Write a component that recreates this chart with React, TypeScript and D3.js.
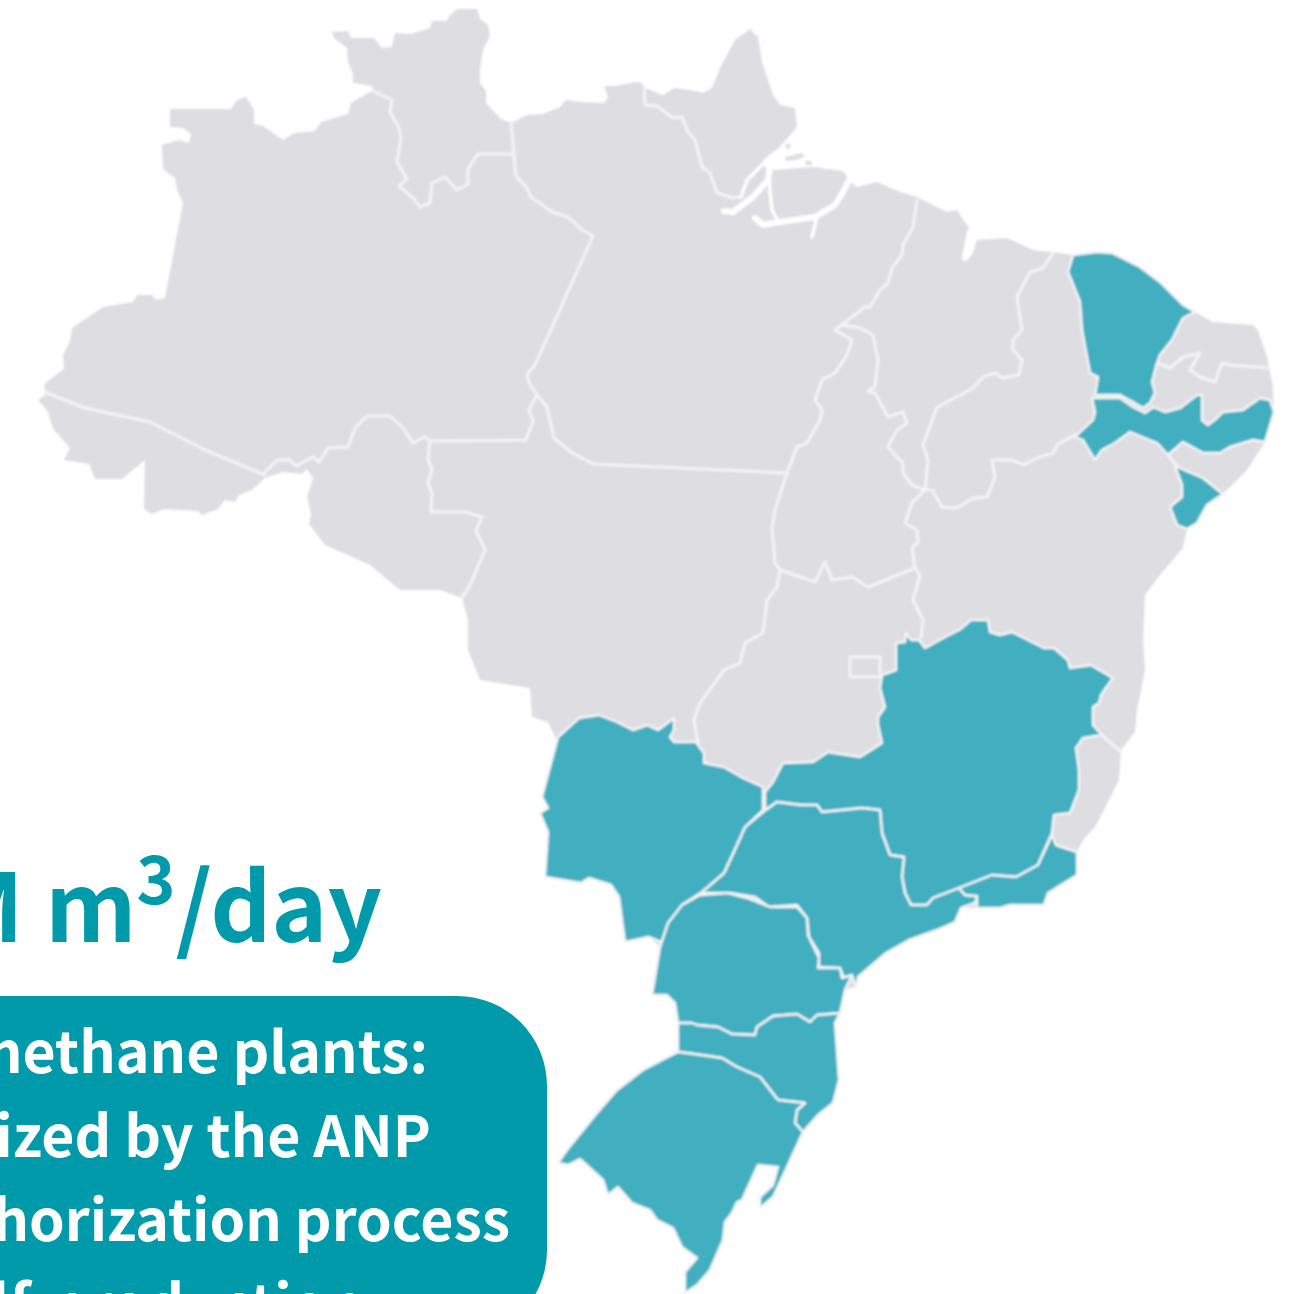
import * as d3 from "d3";

type Pt = [number, number];

// map geometry, in map units
const LAND: Pt[] = [
  [457,9],[477,9],[480,19],[488,25],[490,36],[483,50],[480,69],[480,83],[486,91],[486,103],[501,119],[511,123],
  [527,115],[543,114],[560,107],[566,100],[581,102],[604,103],[608,97],[604,86],[615,86],[630,83],[640,82],
  [645,88],[663,95],[675,88],[690,90],[703,93],[712,88],[720,68],[735,40],[750,29],[758,37],[762,62],[773,95],[780,105],[795,108],[797,127],
  [780,147],[763,160],[766,170],[773,170],[813,167],[843,171],[853,184],
  [857,187],[877,182],[900,192],[917,197],[947,212],[957,210],[970,230],[962,255],[966,261],[972,255],[977,240],
  [1007,238],[1033,250],[1053,252],[1073,255],[1097,252],[1112,253],[1140,267],[1160,282],[1183,305],[1195,312],
  [1213,322],[1253,325],[1258,330],[1267,357],[1273,387],[1274,412],[1265,442],[1247,470],[1223,494],[1207,505],[1197,523],[1187,529],
  [1183,548],[1160,575],[1145,595],[1143,640],[1145,670],[1137,710],[1135,732],[1121,750],[1119,780],[1109,800],[1095,827],[1083,840],[1077,852],
  [1077,875],[1048,893],[1044,905],[1010,905],[1000,908],[977,908],[961,908],[955,922],[937,930],[909,940],[886,953],[858,977],[855,987],[845,990],
  [840,1017],[835,1023],[839,1080],[833,1103],[818,1115],[803,1132],[787,1167],[773,1197],[760,1208],[760,1197],[773,1185],[778,1167],[758,1165],[742,1200],[737,1202],[732,1213],[725,1222],[723,1240],[710,1270],[697,1285],[685,1293],
  [685,1272],[697,1258],[682,1247],[673,1228],[657,1220],[650,1210],[632,1203],[618,1187],[608,1195],[603,1180],[580,1159],[568,1165],[558,1163],[567,1150],[597,1113],[617,1090],[643,1070],[668,1057],[678,1052],
  [678,1023],[675,1003],[667,995],[652,995],[660,947],[649,937],[625,942],[619,897],[611,885],[589,878],[581,883],[545,877],[548,832],[540,813],[548,808],[542,797],[558,743],[554,735],[548,722],[532,717],[530,688],
  [480,680],[468,650],[468,620],[462,598],[440,590],[400,590],[370,565],[325,545],[309,524],[311,514],[307,497],[313,478],[307,469],[302,474],[283,472],[265,478],
  [252,490],[239,495],[235,502],[225,500],[218,509],[202,515],[198,511],[164,509],[152,514],[144,509],[145,460],[122,479],[95,479],[89,464],[64,460],[70,448],[53,429],[47,410],[38,400],[45,395],[45,383],
  [64,369],[63,355],[70,341],[72,328],[103,307],[133,302],[137,295],[152,295],[156,300],[165,298],[183,203],[177,190],[175,178],[163,169],[162,145],[179,140],[189,143],[191,134],[183,128],[170,127],[170,109],[231,109],[237,100],[246,97],[254,110],[254,124],[263,126],[283,140],[294,133],[315,131],[321,122],[348,114],[351,103],[373,90],
  [372,86],[353,83],[353,74],[348,62],[347,48],[334,38],[332,32],[348,31],[351,38],[374,38],[382,48],[392,47],[395,33],[411,34],[430,28],[432,21],[447,21],[449,16],
];

const DELTA_ISLANDS: Pt[][] = [
  [[786,144],[791,144],[789,149],[785,149]],
  [[785,157],[802,153],[805,156],[796,160],[786,161]],
  [[805,161],[811,161],[813,165],[806,165]],
];

const WIDE_RIVERS: Pt[][] = [
  [[724,211],[733,212],[753,197],[768,180],[770,167],[783,148]],
  [[755,218],[763,225],[780,222],[815,217],[835,205],[843,192],[850,178]],
  [[970,232],[965,258]],
];

const THIN_RIVERS: Pt[][] = [
  [[741,197],[747,180],[757,170],[765,162]],
  [[769,172],[770,192],[772,210],[778,221]],
  [[817,217],[812,237]],
];

const BORDERS: Pt[][] = [
  // Roraima / Amazonas
  [[373,91],[392,100],[390,112],[399,128],[401,138],[397,162],[407,179],[399,186],[413,198],[420,207],[430,203],[432,183],[445,177],[457,190],[468,184],[468,169],[478,154],[514,154]],
  // Pará west
  [[511,122],[514,155],[516,176],[527,188],[531,197],[552,212],[568,217],[581,229],[593,236],[535,365],[527,374],[529,383],[537,395]],
  [[537,395],[529,410],[533,421],[526,440],[430,441]],
  [[537,395],[547,407],[554,438],[571,452],[593,464],[787,473]],
  // Acre
  [[45,392],[85,408],[150,422],[205,450],[265,475]],
  // Rondônia
  [[263,474],[277,460],[290,460],[296,466],[313,457],[319,462],[328,448],[348,447],[355,428],[367,416],[390,416],[403,428],[413,443],[424,437],[430,441],[428,459],[432,469],[428,483],[432,493],[431,512],[466,512],[482,517],[476,531],[485,550],[470,585],[462,598]],
  // Amapá
  [[644,85],[645,105],[657,106],[673,118],[682,117],[688,132],[695,140],[702,167],[710,173],[717,193],[733,198],[741,197]],
  // Tocantins / Pará / Maranhão
  [[787,473],[797,447],[807,443],[820,420],[822,410],[815,400],[822,380],[835,373],[847,355],[852,340],[835,330],[865,307],[870,307],[880,290],[888,283],[892,268],[902,255],[903,245],[913,227],[917,200]],
  [[843,325],[860,328],[873,335],[878,360],[875,387],[868,391],[875,393],[888,417],[903,412],[907,423],[897,430],[888,447],[895,455],[903,463],[903,473],[912,485],[925,490]],
  [[787,473],[775,510],[772,527],[775,563],[780,570],[815,582],[825,562],[832,580],[852,577],[868,587],[915,568]],
  // Piauí
  [[925,490],[928,460],[923,445],[937,407],[955,398],[973,388],[983,377],[995,373],[1002,378],[1019,375],[1022,360],[1013,350],[1013,340],[1022,330],[1017,297],[1030,272],[1043,268],[1053,253]],
  [[925,490],[932,490],[942,507],[957,508],[973,498],[987,497],[995,477],[992,460],[1013,460],[1023,465],[1037,458],[1053,453],[1057,445],[1075,435]],
  [[925,490],[912,503],[905,523],[917,530],[918,542],[912,548],[915,568],[920,575],[913,600],[923,620],[921,637]],
  // Goiás / Mato Grosso
  [[780,570],[777,587],[767,600],[763,633],[745,643],[740,663],[724,670],[700,703],[694,720],[698,743]],
  // Distrito Federal
  [[850,657],[880,657],[880,677],[850,677],[850,657]],
  // Rio Grande do Norte / Paraíba
  [[1157,363],[1170,368],[1183,357],[1200,353],[1190,370],[1200,377],[1215,382],[1222,363],[1230,365],[1268,368]],
  // Alagoas / Bahia, Espírito Santo
  [[1168,455],[1177,466]],
  [[1102,735],[1121,752]],
];

const CEARA: Pt[] = [[1073,255],[1097,252],[1112,253],[1140,267],[1160,282],[1183,305],[1195,312],[1183,318],[1172,340],[1160,355],[1157,363],[1152,382],[1155,393],[1150,403],[1143,408],[1133,402],[1120,395],[1095,395],[1098,377],[1090,373],[1082,330],[1080,302],[1068,272]];
const PERNAMBUCO: Pt[] = [[1092,398],[1120,398],[1133,407],[1145,413],[1153,407],[1165,412],[1180,408],[1197,395],[1202,395],[1202,420],[1208,425],[1217,418],[1223,412],[1243,410],[1260,398],[1270,400],[1274,412],[1265,442],[1253,440],[1230,447],[1220,453],[1203,453],[1183,442],[1168,455],[1157,443],[1130,432],[1115,443],[1102,450],[1095,460],[1090,452],[1083,440],[1075,437],[1093,420],[1095,412]];
const SERGIPE: Pt[] = [[1175,466],[1203,478],[1223,494],[1207,505],[1197,523],[1187,529],[1177,525],[1170,507],[1182,497],[1182,485]];
const MINAS: Pt[] = [[971,620],[988,620],[990,632],[1000,635],[1012,632],[1044,648],[1054,648],[1068,660],[1070,668],[1091,665],[1113,678],[1101,695],[1099,703],[1093,707],[1093,725],[1102,735],[1083,738],[1076,748],[1079,770],[1079,790],[1070,813],[1054,815],[1052,833],[1038,865],[1016,877],[992,875],[959,888],[933,898],[927,905],[911,905],[905,893],[902,877],[904,857],[890,855],[882,833],[880,810],[862,808],[822,812],[817,805],[801,805],[777,802],[765,810],[765,792],[773,782],[783,763],[813,762],[828,752],[860,757],[882,743],[878,725],[878,717],[885,707],[880,688],[882,675],[896,670],[896,643],[905,642],[906,633],[911,640],[919,640],[925,648],[945,637],[959,630]];
const SAO_PAULO: Pt[] = [[777,802],[801,805],[817,805],[822,812],[862,808],[880,810],[882,833],[890,855],[904,857],[902,877],[905,893],[911,905],[927,905],[933,898],[959,888],[965,895],[977,896],[975,903],[961,908],[955,922],[937,930],[909,940],[886,953],[858,977],[856,988],[852,975],[844,978],[840,968],[819,967],[819,953],[809,937],[807,918],[797,905],[769,907],[755,897],[730,893],[700,893],[724,873],[736,847],[745,827],[763,812]];
const RIO: Pt[] = [[1052,835],[1038,865],[1016,877],[992,875],[959,888],[965,895],[977,896],[977,908],[1000,908],[1010,905],[1044,905],[1048,893],[1077,875],[1077,852],[1056,845]];
const MATO_GROSSO_SUL: Pt[] = [[558,737],[579,718],[599,715],[617,722],[633,730],[647,725],[658,730],[674,718],[674,730],[670,737],[674,742],[696,742],[704,753],[704,763],[724,767],[743,778],[763,787],[763,810],[745,827],[736,847],[724,873],[702,892],[682,905],[670,923],[664,943],[649,937],[625,942],[619,897],[611,885],[589,878],[581,883],[545,877],[548,832],[540,813],[548,808],[542,797]];
const PARANA: Pt[] = [[660,947],[668,923],[682,905],[700,895],[728,893],[747,898],[770,907],[797,907],[807,918],[808,935],[819,958],[818,968],[840,968],[842,978],[852,975],[845,990],[840,1013],[817,1015],[810,1022],[797,1014],[773,1016],[757,1027],[755,1035],[732,1034],[718,1027],[697,1025],[692,1023],[678,1023],[675,1003],[667,995],[652,995]];
const SANTA_CATARINA: Pt[] = [[678,1023],[692,1023],[697,1025],[718,1027],[732,1034],[755,1035],[757,1027],[773,1016],[797,1014],[810,1022],[817,1015],[840,1013],[835,1023],[839,1080],[833,1103],[818,1115],[803,1132],[795,1123],[797,1110],[805,1103],[778,1100],[760,1077],[737,1067],[722,1058],[687,1053],[678,1052]];
const RIO_GRANDE_SUL: Pt[] = [[678,1052],[687,1053],[722,1058],[737,1067],[760,1077],[778,1100],[805,1103],[797,1110],[795,1123],[803,1132],[787,1167],[773,1197],[760,1208],[760,1197],[773,1185],[778,1167],[758,1165],[742,1200],[737,1202],[732,1213],[725,1222],[723,1240],[710,1270],[697,1285],[685,1293],[685,1272],[697,1258],[682,1247],[673,1228],[657,1220],[650,1210],[632,1203],[618,1187],[608,1195],[603,1180],[580,1159],[568,1165],[558,1163],[567,1150],[597,1113],[617,1090],[643,1070],[668,1057]];

const HIGHLIGHTED: Pt[][] = [CEARA, PERNAMBUCO, SERGIPE, MINAS, SAO_PAULO, RIO, MATO_GROSSO_SUL, PARANA, SANTA_CATARINA, RIO_GRANDE_SUL];

const CAPACITY_LABEL = "M m";
const CAPACITY_UNIT = "/day";
const BOX_LINES = ["Biomethane plants:", "Authorized by the ANP", "In authorization process", "Self-production"];
const BOX_LINE_ENDS = [428, 431, 510, 364];
const BOX_LINE_BASES = [1073, 1157, 1241, 1326];

const W = 1299;
const H = 1294;
const FONT = '"Noto Sans CJK SC", "Noto Sans", sans-serif';
const LAND_COLOR = "#dedee2";
const LINE_COLOR = "#f4f4f6";
const HIGHLIGHT_COLOR = "#43afc0";
const BRAND_COLOR = "#009aaa";

const path = d3.geoPath(d3.geoIdentity());
const poly = (ring: Pt[]) => path({ type: "Polygon", coordinates: [[...ring, ring[0]]] } as any) || "";
const lines = (ls: Pt[][]) => path({ type: "MultiLineString", coordinates: ls } as any) || "";

export default function App() {
  return (
    <div style={{ position: "absolute", left: 0, top: 0, width: W, height: H, overflow: "hidden", background: "#fff" }}>
      <svg width={W} height={H} style={{ display: "block" }}>
        <defs>
          <filter id="soft" x="-5%" y="-5%" width="110%" height="110%">
            <feGaussianBlur stdDeviation="1" />
          </filter>
        </defs>
        <g filter="url(#soft)" strokeLinejoin="round" strokeLinecap="round">
          <path d={poly(LAND)} fill={LAND_COLOR} />
          {DELTA_ISLANDS.map((r, i) => (
            <path key={i} d={poly(r)} fill={LAND_COLOR} />
          ))}
          <path d={lines(BORDERS)} fill="none" stroke={LINE_COLOR} strokeWidth={3} />
          <path d={lines(WIDE_RIVERS)} fill="none" stroke="#fff" strokeWidth={6} />
          <path d={lines(THIN_RIVERS)} fill="none" stroke="#fff" strokeWidth={3.5} />
          {HIGHLIGHTED.map((r, i) => (
            <path key={i} d={poly(r)} fill={HIGHLIGHT_COLOR} stroke={LINE_COLOR} strokeWidth={2.4} />
          ))}
        </g>

        <text x={382} y={942} textAnchor="end" fontFamily={FONT} fontWeight={700} fontSize={95} fill={BRAND_COLOR}>
          {CAPACITY_LABEL}
          <tspan fontSize={66} dy={-38}>3</tspan>
          <tspan dy={38}>{CAPACITY_UNIT}</tspan>
        </text>

        <rect x={-100} y={996} width={647} height={344} rx={90} ry={90} fill={BRAND_COLOR} />
        {BOX_LINES.map((t, i) => (
          <text key={t} x={BOX_LINE_ENDS[i]} y={BOX_LINE_BASES[i]} textAnchor="end" fontFamily={FONT} fontWeight={700} fontSize={57.2} fill="#fff">
            {t}
          </text>
        ))}
      </svg>
    </div>
  );
}
